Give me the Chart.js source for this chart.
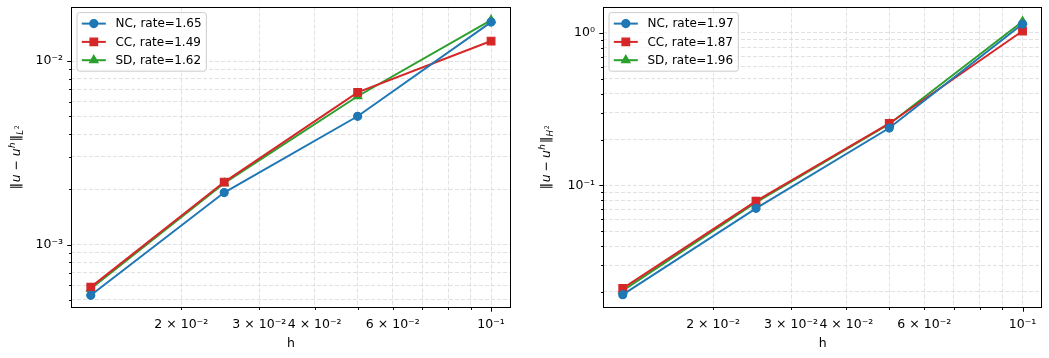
<!DOCTYPE html>
<html><head><meta charset="utf-8">
<script src="https://cdn.jsdelivr.net/npm/chart.js@4/dist/chart.umd.min.js"></script>
<style>
html,body{margin:0;padding:0;background:#fff;}
#wrap{position:relative;width:1049px;height:358px;overflow:hidden;background:#fff;}
canvas{position:absolute;top:0;}
</style></head><body>
<div id="wrap">
<canvas id="c1" width="530" height="358" style="left:0"></canvas>
<canvas id="c2" width="519" height="358" style="left:530px"></canvas>
</div>
<script>
// ---- data ----
const hValues = [0.0125, 0.025, 0.05, 0.1];
const l2NC = [0.000529, 0.00192, 0.00500, 0.0163];
const l2CC = [0.000586, 0.00219, 0.00675, 0.01285];
const l2SD = [0.000574, 0.00216, 0.00643, 0.0167];
const h2NC = [0.0192, 0.0708, 0.238, 1.145];
const h2CC = [0.0211, 0.0789, 0.255, 1.03];
const h2SD = [0.0204, 0.0774, 0.253, 1.19];
const seriesNames = ['NC', 'CC', 'SD'];
const ratesL2 = ['1.65', '1.49', '1.62'];
const ratesH2 = ['1.97', '1.87', '1.96'];
// ---- ticks ----
const xTicks = [0.02, 0.03, 0.04, 0.05, 0.06, 0.07, 0.08, 0.09, 0.1];
const xTickLabels = ['2 × 10⁻²', '3 × 10⁻²', '4 × 10⁻²', '', '6 × 10⁻²', '', '', '', '10⁻¹'];
const yTicksL2 = [0.0005, 0.0006, 0.0007, 0.0008, 0.0009, 0.001, 0.002, 0.003, 0.004, 0.005, 0.006, 0.007, 0.008, 0.009, 0.01];
const yTickLabelsL2 = ['', '', '', '', '', '10⁻³', '', '', '', '', '', '', '', '', '10⁻²'];
const yTicksH2 = [0.02, 0.03, 0.04, 0.05, 0.06, 0.07, 0.08, 0.09, 0.1, 0.2, 0.3, 0.4, 0.5, 0.6, 0.7, 0.8, 0.9, 1];
const yTickLabelsH2 = ['', '', '', '', '', '', '', '', '10⁻¹', '', '', '', '', '', '', '', '', '10⁰'];

const colors = ['#1f77b4', '#d62728', '#2ca02c'];
const styles = [{s: 'circle', r: 4.0}, {s: 'rect', r: 5.4}, {s: 'triangle', r: 4.9}];
const FONT = '"DejaVu Sans", sans-serif';

Chart.defaults.font.family = FONT;
Chart.defaults.font.size = 12;
Chart.defaults.color = '#000';

function isMajor(v) { const l = Math.log10(v); return Math.abs(l - Math.round(l)) < 1e-9; }

function drawYLabel(ctx, cx, cy, sub) {
  const b = 12.5, s = 8.8, ss = 6.3;
  const pieces = [
    {t: '‖', f: b + 'px ' + FONT, dy: 0, pre: 0},
    {t: 'u', f: 'italic ' + b + 'px ' + FONT, dy: 0, pre: 0.8},
    {t: '−', f: b + 'px ' + FONT, dy: 0, pre: 0, post: 0, gap: true},
    {t: 'u', f: 'italic ' + b + 'px ' + FONT, dy: 0, pre: 0},
    {t: 'h', f: 'italic ' + s + 'px ' + FONT, dy: -5.0, pre: 0.4},
    {t: '‖', f: b + 'px ' + FONT, dy: 0, pre: 1.2},
    {t: sub, f: 'italic ' + s + 'px ' + FONT, dy: 2.8, pre: 0.2},
    {t: '2', f: ss + 'px ' + FONT, dy: -1.6, pre: 0.6}
  ];
  let total = 0;
  pieces.forEach(p => { ctx.font = p.f; p.w = ctx.measureText(p.t).width; total += (p.pre || 0) + p.w + (p.post || 0); });
  // space around the minus sign (mathtext binary-operator spacing)
  const target = 64;
  const gap = Math.max(2.5, Math.min(6, (target - total) / 2));
  pieces.forEach(p => { if (p.gap) { p.pre = gap; p.post = gap; } });
  total += 2 * gap;
  ctx.save();
  ctx.translate(cx, cy);
  ctx.rotate(-Math.PI / 2);
  ctx.fillStyle = '#000';
  ctx.textBaseline = 'alphabetic';
  ctx.textAlign = 'left';
  let x = -total / 2;
  const base = 4.5;
  pieces.forEach(p => {
    x += p.pre || 0;
    ctx.font = p.f;
    ctx.fillText(p.t, x, base + p.dy);
    x += p.w + (p.post || 0);
  });
  ctx.restore();
}

function framePlugin(legendLabels, sub) {
  return {
    id: 'frame',
    afterDraw(chart) {
      const ctx = chart.ctx, a = chart.chartArea;
      const L = Math.round(a.left) + 0.5, T = Math.round(a.top) + 0.5;
      const R = Math.round(a.right) - 0.5, B = Math.round(a.bottom) - 0.5;
      ctx.save();
      // tick marks
      ctx.strokeStyle = '#000';
      ctx.lineWidth = 1;
      const xs = chart.scales.x, ys = chart.scales.y;
      xs.ticks.forEach(t => {
        const px = Math.round(xs.getPixelForValue(t.value)) + 0.5;
        const len = isMajor(t.value) ? 4.2 : 2.4;
        ctx.beginPath(); ctx.moveTo(px, B); ctx.lineTo(px, B + len); ctx.stroke();
      });
      ys.ticks.forEach(t => {
        const py = Math.round(ys.getPixelForValue(t.value)) + 0.5;
        const len = isMajor(t.value) ? 4.2 : 2.4;
        ctx.beginPath(); ctx.moveTo(L, py); ctx.lineTo(L - len, py); ctx.stroke();
      });
      // frame
      ctx.strokeRect(L, T, R - L, B - T);
      // legend
      ctx.font = '12px ' + FONT;
      const tw = Math.max(...legendLabels.map(l => ctx.measureText(l).width));
      const x0 = a.left + 6, y0 = a.top + 6;
      const w = 4.8 + 24 + 9.6 + tw + 4.8, hh = 58.6, rr = 2.4;
      ctx.beginPath();
      ctx.moveTo(x0 + rr, y0);
      ctx.lineTo(x0 + w - rr, y0); ctx.quadraticCurveTo(x0 + w, y0, x0 + w, y0 + rr);
      ctx.lineTo(x0 + w, y0 + hh - rr); ctx.quadraticCurveTo(x0 + w, y0 + hh, x0 + w - rr, y0 + hh);
      ctx.lineTo(x0 + rr, y0 + hh); ctx.quadraticCurveTo(x0, y0 + hh, x0, y0 + hh - rr);
      ctx.lineTo(x0, y0 + rr); ctx.quadraticCurveTo(x0, y0, x0 + rr, y0);
      ctx.closePath();
      ctx.fillStyle = 'rgba(255,255,255,0.8)';
      ctx.fill();
      ctx.strokeStyle = '#cccccc';
      ctx.lineWidth = 1;
      ctx.stroke();
      legendLabels.forEach((lab, i) => {
        const cy = y0 + 11 + i * 18.3;
        ctx.strokeStyle = colors[i];
        ctx.fillStyle = colors[i];
        ctx.lineWidth = 2;
        ctx.beginPath(); ctx.moveTo(x0 + 4.8, cy); ctx.lineTo(x0 + 28.8, cy); ctx.stroke();
        ctx.lineWidth = 1.2;
        Chart.helpers.drawPoint(ctx, {pointStyle: styles[i].s, radius: styles[i].r, borderWidth: 1.2, rotation: 0}, x0 + 16.8, cy);
        ctx.fillStyle = '#000';
        ctx.font = '12px ' + FONT;
        ctx.textBaseline = 'middle';
        ctx.textAlign = 'left';
        ctx.fillText(lab, x0 + 38.4, cy + 0.5);
      });
      // y-axis label
      drawYLabel(ctx, 15.7, (a.top + a.bottom) / 2, sub);
      ctx.restore();
    }
  };
}

function makeChart(id, series, rates, yTicks, yTickLabels, yMin, yMax, yWidth, padRight, sub) {
  const datasets = series.map((vals, i) => ({
    label: seriesNames[i] + ', rate=' + rates[i],
    data: hValues.map((hv, j) => ({x: hv, y: vals[j]})),
    borderColor: colors[i],
    backgroundColor: colors[i],
    pointBackgroundColor: colors[i],
    pointBorderColor: colors[i],
    pointStyle: styles[i].s,
    pointRadius: styles[i].r,
    pointBorderWidth: 1.2,
    borderWidth: 2,
    tension: 0,
    fill: false,
    clip: false
  }));
  const legendLabels = datasets.map(d => d.label);
  const gridCfg = {color: '#d9d9d9', lineWidth: 0.8, drawTicks: false, borderDash: [4, 2]};
  return new Chart(document.getElementById(id), {
    type: 'line',
    data: {datasets},
    options: {
      responsive: false,
      animation: false,
      events: [],
      layout: {padding: {left: 0, top: 6, right: padRight, bottom: 0}},
      plugins: {legend: {display: false}, tooltip: {enabled: false}},
      scales: {
        x: {
          type: 'logarithmic', min: 0.01128, max: 0.1109, bounds: 'data',
          grid: gridCfg,
          border: {display: false, dash: [4, 2]},
          ticks: {autoSkip: false, maxRotation: 0, padding: 9, color: '#000', font: {size: 12.5},
                  callback: (v, i) => xTickLabels[i]},
          title: {display: true, text: 'h', color: '#000', font: {size: 12.5}, padding: {top: 0, bottom: 7}},
          afterBuildTicks: s => { s.ticks = xTicks.map(v => ({value: v})); },
          afterFit: s => { s.height = 50; s.paddingLeft = 0; s.paddingRight = 0; }
        },
        y: {
          type: 'logarithmic', min: yMin, max: yMax, bounds: 'data',
          grid: gridCfg,
          border: {display: false, dash: [4, 2]},
          ticks: {autoSkip: false, padding: 8, color: '#000', font: {size: 12.5},
                  callback: (v, i) => yTickLabels[i]},
          afterBuildTicks: s => { s.ticks = yTicks.map(v => ({value: v})); },
          afterFit: s => { s.width = yWidth; s.paddingTop = 0; s.paddingBottom = 0; }
        }
      }
    },
    plugins: [framePlugin(legendLabels, sub)]
  });
}

makeChart('c1', [l2NC, l2CC, l2SD], ratesL2, yTicksL2, yTickLabelsL2, 0.000451, 0.0198, 71, 19, 'L');
makeChart('c2', [h2NC, h2CC, h2SD], ratesH2, yTicksH2, yTickLabelsH2, 0.0157, 1.49, 73, 1.3, 'H');
</script>
</body></html>
